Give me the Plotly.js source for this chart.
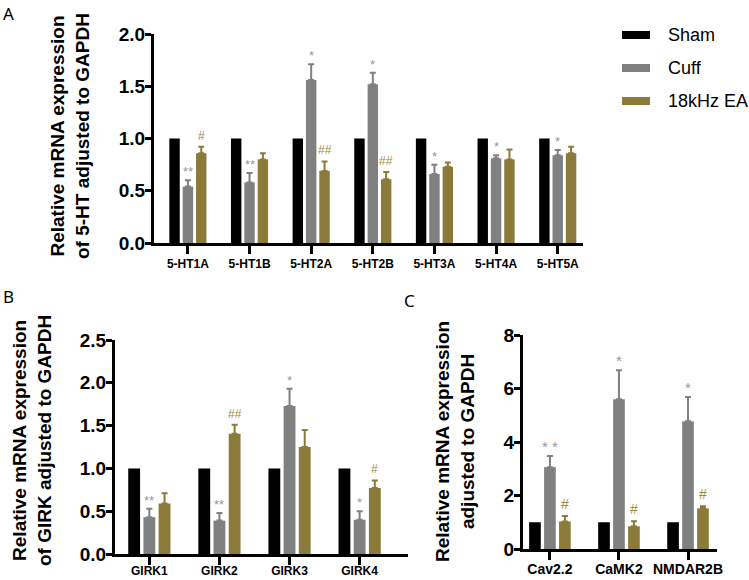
<!DOCTYPE html>
<html><head><meta charset="utf-8">
<script src="https://cdn.plot.ly/plotly-3.0.1.min.js"></script>
<style>html,body{margin:0;padding:0;background:#fff}#chart{width:749px;height:580px}</style>
</head><body><div id="chart"></div>
<script>
const groups = ['Sham', 'Cuff', '18kHz EA'];

const htCats = ['5-HT1A', '5-HT1B', '5-HT2A', '5-HT2B', '5-HT3A', '5-HT4A', '5-HT5A'];
const htSham = [1, 1, 1, 1, 1, 1, 1];
const htCuff = [0.54, 0.58, 1.56, 1.52, 0.66, 0.81, 0.84];
const htCuffErr = [0.06, 0.09, 0.15, 0.11, 0.09, 0.03, 0.05];
const htEA = [0.86, 0.80, 0.69, 0.61, 0.73, 0.80, 0.86];
const htEAErr = [0.06, 0.06, 0.09, 0.07, 0.04, 0.095, 0.06];
const htCuffSig = ['**', '**', '*', '*', '*', '*', '*'];
const htEASig = ['#', '', '##', '##', '', '', ''];

const girkCats = ['GIRK1', 'GIRK2', 'GIRK3', 'GIRK4'];
const girkSham = [1, 1, 1, 1];
const girkCuff = [0.43, 0.39, 1.73, 0.40];
const girkCuffErr = [0.10, 0.09, 0.20, 0.10];
const girkEA = [0.59, 1.405, 1.25, 0.77];
const girkEAErr = [0.12, 0.105, 0.20, 0.09];
const girkCuffSig = ['**', '**', '*', '*'];
const girkEASig = ['', '##', '', '#'];

const otherCats = ['Cav2.2', 'CaMK2', 'NMDAR2B'];
const otherSham = [1, 1, 1];
const otherCuff = [3.06, 5.6, 4.78];
const otherCuffErr = [0.42, 1.08, 0.9];
const otherEA = [1.03, 0.85, 1.52];
const otherEAErr = [0.2, 0.19, 0.075];
const otherCuffSig = ['* *', '*', '*'];
const otherEASig = ['#', '#', '#'];

const colors = ['#000000', '#808080', '#8B7A3A'];
const sigColors = ['#979797', '#A08C3A'];
const FONT = 'Liberation Sans, Arial, sans-serif';
const BARGAP = 0.35, BARGROUPGAP = 0.22;
const slot = (1 - BARGAP) / 3;

const traces = [];
const annotations = [];

function panel(cats, sham, cuff, cuffErr, ea, eaErr, cuffSig, eaSig, xa, ya, sigSize) {
  const series = [sham, cuff, ea];
  const errs = [null, cuffErr, eaErr];
  series.forEach((vals, i) => {
    const t = {
      type: 'bar', x: cats, y: vals, name: groups[i], xaxis: xa, yaxis: ya,
      marker: {color: colors[i], line: {width: 0}}, showlegend: false
    };
    if (errs[i]) {
      t.error_y = {type: 'data', symmetric: false, array: errs[i],
        arrayminus: errs[i].map(() => 0), color: colors[i], thickness: 2, width: 3};
    }
    traces.push(t);
  });
  cats.forEach((c, k) => {
    if (cuffSig[k]) annotations.push({xref: xa, yref: ya, x: k, y: cuff[k] + cuffErr[k],
      text: cuffSig[k], showarrow: false, yanchor: 'bottom', yshift: -1,
      font: {family: FONT, size: sigSize, color: sigColors[0]}});
    if (eaSig[k]) annotations.push({xref: xa, yref: ya, x: k + slot, y: ea[k] + eaErr[k],
      text: eaSig[k], showarrow: false, yanchor: 'bottom', yshift: 2,
      font: {family: FONT, size: sigSize - 1, color: sigColors[1]}});
  });
}

panel(htCats, htSham, htCuff, htCuffErr, htEA, htEAErr, htCuffSig, htEASig, 'x', 'y', 13);
panel(girkCats, girkSham, girkCuff, girkCuffErr, girkEA, girkEAErr, girkCuffSig, girkEASig, 'x2', 'y2', 13);
panel(otherCats, otherSham, otherCuff, otherCuffErr, otherEA, otherEAErr, otherCuffSig, otherEASig, 'x3', 'y3', 15);

const W = 749, H = 580;
const px = v => v / W, py = v => 1 - v / H;

function xax(d0, d1, r, anchor, fs, standoff) {
  return {domain: [px(d0), px(d1)], range: r, type: 'category', anchor: anchor,
    showline: true, linewidth: 3, linecolor: '#000', ticks: 'outside', ticklen: 8, tickwidth: 3,
    tickcolor: '#000', showgrid: false, zeroline: false, fixedrange: true, ticklabelstandoff: standoff,
    tickfont: {family: FONT, size: fs, color: '#000', weight: 'bold'}};
}
function yax(top, bottom, r, dtick, fmt, anchor) {
  return {domain: [py(bottom), py(top)], range: r, dtick: dtick, tick0: 0, tickformat: fmt, anchor: anchor,
    showline: true, linewidth: 3, linecolor: '#000', ticks: 'outside', ticklen: 6, tickwidth: 3,
    tickcolor: '#000', showgrid: false, zeroline: false, fixedrange: true, ticklabelstandoff: -4,
    tickfont: {family: FONT, size: 19, color: '#000', weight: 'bold'}};
}

const titleFont = {family: FONT, size: 19, color: '#000', weight: 'bold'};
annotations.push(
  {xref: 'paper', yref: 'paper', x: px(70), y: py(136), text: 'Relative mRNA expression<br>of 5-HT adjusted to GAPDH',
   textangle: -90, showarrow: false, font: titleFont, xanchor: 'center', yanchor: 'middle'},
  {xref: 'paper', yref: 'paper', x: px(32), y: py(441), text: 'Relative mRNA expression<br>of GIRK adjusted to GAPDH',
   textangle: -90, showarrow: false, font: titleFont, xanchor: 'center', yanchor: 'middle'},
  {xref: 'paper', yref: 'paper', x: px(455), y: py(441), text: 'Relative mRNA expression<br>adjusted to GAPDH',
   textangle: -90, showarrow: false, font: titleFont, xanchor: 'center', yanchor: 'middle'}
);

const letterFont = {family: 'Noto Sans, sans-serif', size: 17, color: '#000'};
[['A', 1, 0], ['B', 1, 283], ['C', 402, 287]].forEach(([t, x, y]) => {
  annotations.push({xref: 'paper', yref: 'paper', x: px(x), y: py(y), text: t, showarrow: false,
    xanchor: 'left', yanchor: 'top', font: letterFont});
});

const shapes = [];
const legY = [35, 68, 101];
groups.forEach((g, i) => {
  shapes.push({type: 'rect', xref: 'paper', yref: 'paper', x0: px(622), x1: px(650),
    y0: py(legY[i] + 4), y1: py(legY[i] - 4), fillcolor: colors[i], line: {width: 0}});
  annotations.push({xref: 'paper', yref: 'paper', x: px(666), y: py(legY[i]), text: g, showarrow: false,
    xanchor: 'left', yanchor: 'middle', font: {family: FONT, size: 18, color: '#000'}});
});

const layout = {
  width: W, height: H, margin: {l: 0, r: 0, t: 0, b: 0},
  paper_bgcolor: '#fff', plot_bgcolor: 'rgba(0,0,0,0)',
  barmode: 'group', bargap: BARGAP, bargroupgap: BARGROUPGAP, showlegend: false,
  xaxis: xax(154, 583, [-0.55, 6.41], 'y', 12, 0),
  yaxis: yax(34, 243, [0, 2], 0.5, '.1f', 'x'),
  xaxis2: xax(115, 408, [-0.49, 3.69], 'y2', 12, -4),
  yaxis2: yax(340, 554, [0, 2.5], 0.5, '.1f', 'x2'),
  xaxis3: xax(523, 717, [-0.39, 2.42], 'y3', 14, -3),
  yaxis3: yax(335, 549, [0, 8], 2, 'd', 'x3'),
  annotations: annotations, shapes: shapes
};

Plotly.newPlot('chart', traces, layout, {staticPlot: true, displayModeBar: false});
</script></body></html>
